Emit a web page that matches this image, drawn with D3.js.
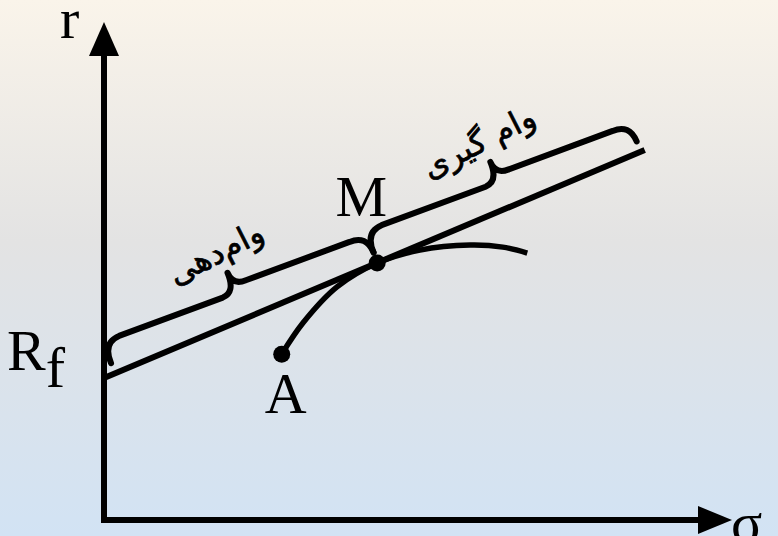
<!DOCTYPE html>
<html><head><meta charset="utf-8">
<script src="https://cdn.jsdelivr.net/npm/d3@7"></script>
<style>html,body{margin:0;padding:0;overflow:hidden;background:#fff;} svg{display:block;}</style>
</head><body>
<script>
const W = 778, H = 536;

// ---- data (chart units) ----
const axisLabels = ["σ", "r"];
const riskFree = 28.5;                 // R_f intercept
const cmlEndX = 86.1, cmlEndY = 74.3;  // end of capital market line
const frontierX = [28.3, 31.7, 37.1, 43.5, 50.3, 58.3, 63.5, 67.4];
const frontierY = [33.3, 39.6, 46.8, 51.6, 54.2, 55.2, 54.8, 53.6];
const pointNames = ["A", "M"];
const pointX = [28.3, 43.5];
const pointY = [33.3, 51.6];
const braceFrom = [1.8, 43.6];
const braceTo = [43.6, 85.5];
const braceLabels = ["وام‌دهی", "وام گیری"];

// ---- scales ----
const x = d3.scaleLinear().domain([0, 100]).range([104, 732]);
const y = d3.scaleLinear().domain([0, 100]).range([520, 22]);
const slope = (cmlEndY - riskFree) / cmlEndX;
const cml = v => riskFree + slope * v;

const svg = d3.select("body").append("svg").attr("width", W).attr("height", H);

// background gradient
const defs = svg.append("defs");
const g = defs.append("linearGradient").attr("id", "bg").attr("x1", 0).attr("y1", 0).attr("x2", 0).attr("y2", 1);
g.append("stop").attr("offset", "0%").attr("stop-color", "#faf4ea");
g.append("stop").attr("offset", "45%").attr("stop-color", "#e3e3e3");
g.append("stop").attr("offset", "100%").attr("stop-color", "#d2e3f4");
svg.append("rect").attr("width", W).attr("height", H).attr("fill", "url(#bg)");

const ink = "#000";

// ---- axes ----
const x0 = x(0), y0 = y(0);
svg.append("line").attr("x1", x0).attr("y1", y0 + 3).attr("x2", x0).attr("y2", y(100) + 30)
  .attr("stroke", ink).attr("stroke-width", 6);
svg.append("path").attr("d", `M${x0},${y(100)} L${x0 - 15},${y(100) + 34} L${x0 + 15},${y(100) + 34} Z`).attr("fill", ink);
svg.append("line").attr("x1", x0 - 3).attr("y1", y0).attr("x2", x(100) - 30).attr("y2", y0)
  .attr("stroke", ink).attr("stroke-width", 6);
svg.append("path").attr("d", `M${x(100)},${y0} L${x(100) - 34},${y0 - 14} L${x(100) - 34},${y0 + 14} Z`).attr("fill", ink);

const serif = "'Liberation Serif','Times New Roman',serif";
svg.append("text").attr("x", x(100) - 1).attr("y", y0 + 22).text(axisLabels[0])
  .attr("font-family", serif).attr("font-size", 58).attr("fill", ink);
svg.append("text").attr("x", x0 - 44).attr("y", y(100) + 16).text(axisLabels[1])
  .attr("font-family", serif).attr("font-size", 58).attr("fill", ink);

// R_f label
const rfT = svg.append("text").attr("x", x0 - 97).attr("y", y(riskFree) - 8)
  .attr("font-family", serif).attr("font-size", 58).attr("fill", ink);
rfT.append("tspan").text("R");
rfT.append("tspan").attr("dy", 17).text("f");

// ---- capital market line ----
svg.append("line").attr("x1", x(0)).attr("y1", y(riskFree)).attr("x2", x(cmlEndX)).attr("y2", y(cmlEndY))
  .attr("stroke", ink).attr("stroke-width", 6);

// ---- efficient frontier ----
const frontier = frontierX.map((v, i) => [x(v), y(frontierY[i])]);
svg.append("path").attr("d", d3.line().curve(d3.curveCatmullRom.alpha(0.5))(frontier))
  .attr("fill", "none").attr("stroke", ink).attr("stroke-width", 5.5);

// ---- points ----
pointNames.forEach((n, i) => {
  svg.append("circle").attr("cx", x(pointX[i])).attr("cy", y(pointY[i])).attr("r", 8.5).attr("fill", ink);
});
svg.append("text").attr("x", x(pointX[0]) + 4).attr("y", y(pointY[0]) + 59).attr("text-anchor", "middle")
  .attr("font-family", serif).attr("font-size", 58).attr("fill", ink).text(pointNames[0]);
svg.append("text").attr("x", x(pointX[1]) - 16).attr("y", y(pointY[1]) - 47).attr("text-anchor", "middle")
  .attr("font-family", serif).attr("font-size", 58).attr("fill", ink).text(pointNames[1]);

// ---- braces ----
braceFrom.forEach((f, i) => {
  const t = braceTo[i];
  const p1 = [x(f), y(cml(f))], p2 = [x(t), y(cml(t))];
  const dx = p2[0] - p1[0], dy = p2[1] - p1[1];
  const L = Math.hypot(dx, dy);
  const u = [dx / L, dy / L], nrm = [u[1], -u[0]];
  const P = (s, h) => [p1[0] + u[0] * s + nrm[0] * h, p1[1] + u[1] * s + nrm[1] * h];
  const q = 18, c = 14, m = L / 2;
  const pt = a => a[0].toFixed(2) + "," + a[1].toFixed(2);
  const d = `M${pt(P(0, 11))} Q${pt(P(0, 33))} ${pt(P(q, 33))} L${pt(P(m - c, 28))} Q${pt(P(m, 28))} ${pt(P(m, 49))}` +
            ` Q${pt(P(m, 35))} ${pt(P(m + c, 35))} L${pt(P(L - q, 30))} Q${pt(P(L, 30))} ${pt(P(L, 11))}`;
  svg.append("path").attr("d", d).attr("fill", "none").attr("stroke", ink)
    .attr("stroke-width", 6).attr("stroke-linejoin", "round").attr("stroke-linecap", "round");
  const c0 = P(m - 3, 72);
  const ang = Math.atan2(u[1], u[0]) * 180 / Math.PI - 4;
  svg.append("text").attr("transform", `translate(${c0[0]},${c0[1]}) rotate(${ang})`)
    .attr("text-anchor", "middle").attr("dominant-baseline", "central")
    .attr("font-family", "'DejaVu Sans','Noto Sans',sans-serif").attr("font-size", 32)
    .attr("stroke", ink).attr("stroke-width", 0.7)
    .attr("direction", "rtl").attr("fill", ink).text(braceLabels[i]);
});
</script>
</body></html>
